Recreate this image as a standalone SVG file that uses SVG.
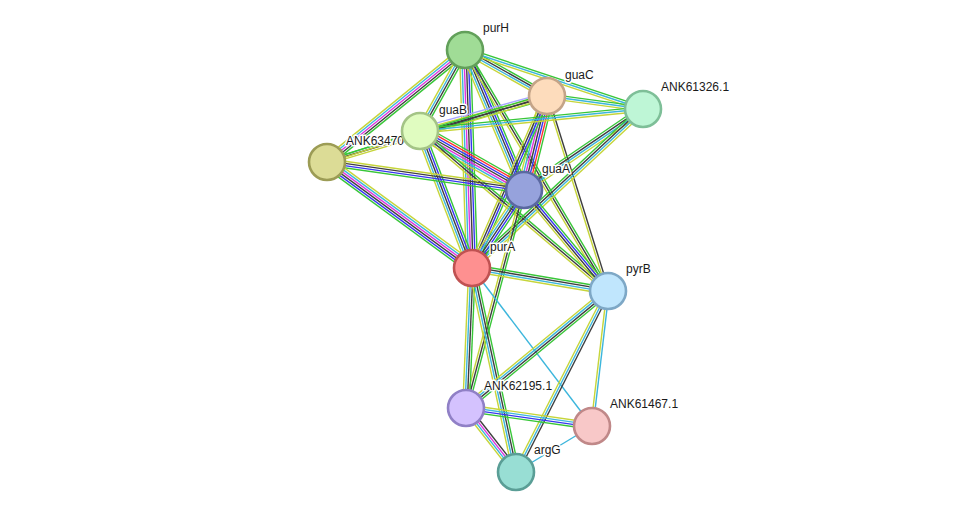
<svg xmlns="http://www.w3.org/2000/svg" width="975" height="517" viewBox="0 0 975 517">
<style>
#edges line{stroke-width:1.4;fill:none}
.n{stroke:#38c638}.f{stroke:#ff3030}.c{stroke:#3636f0}.x{stroke:#3e3e3e}.e{stroke:#dd36dd}.d{stroke:#3cb6dc}.t{stroke:#c6d53a}.h{stroke:#a8a8ff}
.node circle{stroke-width:2.6}
.node text{font-family:"Liberation Sans",Arial,sans-serif;font-size:12px;fill:#1a1a1a;stroke:#fff;stroke-width:3;stroke-linejoin:round;paint-order:stroke}
</style>
<rect width="975" height="517" fill="#fff"/>
<g id="edges">
<g transform="translate(465 50) rotate(140.93)"><line x2="177.7" y1="-4.4" y2="-4.4" class="n"/><line x2="177.7" y1="-2.2" y2="-2.2" class="x"/><line x2="177.7" class="e"/><line x2="177.7" y1="2.2" y2="2.2" class="d"/><line x2="177.7" y1="4.4" y2="4.4" class="t"/></g>
<g transform="translate(465 50) rotate(119.05)"><line x2="92.7" y1="-3.3" y2="-3.3" class="n"/><line x2="92.7" y1="-1.1" y2="-1.1" class="x"/><line x2="92.7" y1="1.1" y2="1.1" class="d"/><line x2="92.7" y1="3.3" y2="3.3" class="t"/></g>
<g transform="translate(465 50) rotate(88.16)"><line x2="218.1" y1="-5.5" y2="-5.5" class="n"/><line x2="218.1" y1="-3.3" y2="-3.3" class="c"/><line x2="218.1" y1="-1.1" y2="-1.1" class="x"/><line x2="218.1" y1="1.1" y2="1.1" class="e"/><line x2="218.1" y1="3.3" y2="3.3" class="d"/><line x2="218.1" y1="5.5" y2="5.5" class="t"/></g>
<g transform="translate(465 50) rotate(67.15)"><line x2="151.9" y1="-4.4" y2="-4.4" class="n"/><line x2="151.9" y1="-2.2" y2="-2.2" class="c"/><line x2="151.9" class="x"/><line x2="151.9" y1="2.2" y2="2.2" class="d"/><line x2="151.9" y1="4.4" y2="4.4" class="t"/></g>
<g transform="translate(465 50) rotate(59.32)"><line x2="280.2" y1="-2.2" y2="-2.2" class="n"/><line x2="280.2" class="x"/><line x2="280.2" y1="2.2" y2="2.2" class="t"/></g>
<g transform="translate(465 50) rotate(29.29)"><line x2="94" y1="-3.3" y2="-3.3" class="n"/><line x2="94" y1="-1.1" y2="-1.1" class="x"/><line x2="94" y1="1.1" y2="1.1" class="d"/><line x2="94" y1="3.3" y2="3.3" class="t"/></g>
<g transform="translate(465 50) rotate(18.34)"><line x2="187.5" y1="-2.2" y2="-2.2" class="n"/><line x2="187.5" class="d"/><line x2="187.5" y1="2.2" y2="2.2" class="t"/></g>
<g transform="translate(547 96) rotate(164.59)"><line x2="131.7" y1="-3.3" y2="-3.3" class="n"/><line x2="131.7" y1="-1.1" y2="-1.1" class="x"/><line x2="131.7" y1="1.1" y2="1.1" class="t"/><line x2="131.7" y1="3.3" y2="3.3" class="h"/></g>
<g transform="translate(547 96) rotate(7.71)"><line x2="96.9" y1="-2.2" y2="-2.2" class="n"/><line x2="96.9" class="d"/><line x2="96.9" y1="2.2" y2="2.2" class="t"/></g>
<g transform="translate(547 96) rotate(103.75)"><line x2="96.8" y1="-6.6" y2="-6.6" class="n"/><line x2="96.8" y1="-4.4" y2="-4.4" class="f"/><line x2="96.8" y1="-2.2" y2="-2.2" class="c"/><line x2="96.8" class="x"/><line x2="96.8" y1="2.2" y2="2.2" class="e"/><line x2="96.8" y1="4.4" y2="4.4" class="d"/><line x2="96.8" y1="6.6" y2="6.6" class="t"/></g>
<g transform="translate(547 96) rotate(113.56)"><line x2="187.6" y1="-3.3" y2="-3.3" class="n"/><line x2="187.6" y1="-1.1" y2="-1.1" class="c"/><line x2="187.6" y1="1.1" y2="1.1" class="x"/><line x2="187.6" y1="3.3" y2="3.3" class="t"/></g>
<g transform="translate(547 96) rotate(72.63)"><line x2="204.3" y1="-1.1" y2="-1.1" class="x"/><line x2="204.3" y1="1.1" y2="1.1" class="t"/></g>
<g transform="translate(327 162) rotate(-16.7)"><line x2="229.7" y1="-2.2" y2="-2.2" class="n"/><line x2="229.7" class="x"/><line x2="229.7" y1="2.2" y2="2.2" class="t"/></g>
<g transform="translate(420 131) rotate(-5.63)"><line x2="224.1" y1="-2.2" y2="-2.2" class="n"/><line x2="224.1" class="d"/><line x2="224.1" y1="2.2" y2="2.2" class="t"/></g>
<g transform="translate(420 131) rotate(29.57)"><line x2="119.6" y1="-6.6" y2="-6.6" class="n"/><line x2="119.6" y1="-4.4" y2="-4.4" class="f"/><line x2="119.6" y1="-2.2" y2="-2.2" class="c"/><line x2="119.6" class="x"/><line x2="119.6" y1="2.2" y2="2.2" class="e"/><line x2="119.6" y1="4.4" y2="4.4" class="d"/><line x2="119.6" y1="6.6" y2="6.6" class="t"/></g>
<g transform="translate(420 131) rotate(69.22)"><line x2="146.5" y1="-4.4" y2="-4.4" class="n"/><line x2="146.5" y1="-2.2" y2="-2.2" class="c"/><line x2="146.5" class="x"/><line x2="146.5" y1="2.2" y2="2.2" class="d"/><line x2="146.5" y1="4.4" y2="4.4" class="t"/></g>
<g transform="translate(420 131) rotate(40.4)"><line x2="246.9" y1="-2.2" y2="-2.2" class="n"/><line x2="246.9" class="x"/><line x2="246.9" y1="2.2" y2="2.2" class="t"/></g>
<g transform="translate(327 162) rotate(-18.43)"><line x2="98" y1="-1.1" y2="-1.1" class="n"/><line x2="98" y1="1.1" y2="1.1" class="t"/></g>
<g transform="translate(327 162) rotate(8.09)"><line x2="199" y1="-3.3" y2="-3.3" class="t"/><line x2="199" y1="-1.1" y2="-1.1" class="x"/><line x2="199" y1="1.1" y2="1.1" class="c"/><line x2="199" y1="3.3" y2="3.3" class="n"/></g>
<g transform="translate(327 162) rotate(36.17)"><line x2="179.6" y1="-5.5" y2="-5.5" class="t"/><line x2="179.6" y1="-3.3" y2="-3.3" class="d"/><line x2="179.6" y1="-1.1" y2="-1.1" class="e"/><line x2="179.6" y1="1.1" y2="1.1" class="x"/><line x2="179.6" y1="3.3" y2="3.3" class="c"/><line x2="179.6" y1="5.5" y2="5.5" class="n"/></g>
<g transform="translate(643 109) rotate(145.76)"><line x2="144" y1="-3.3" y2="-3.3" class="t"/><line x2="144" y1="-1.1" y2="-1.1" class="d"/><line x2="144" y1="1.1" y2="1.1" class="x"/><line x2="144" y1="3.3" y2="3.3" class="n"/></g>
<g transform="translate(643 109) rotate(137.08)"><line x2="233.5" y1="-3.3" y2="-3.3" class="t"/><line x2="233.5" y1="-1.1" y2="-1.1" class="d"/><line x2="233.5" y1="1.1" y2="1.1" class="x"/><line x2="233.5" y1="3.3" y2="3.3" class="n"/></g>
<g transform="translate(524 190) rotate(123.69)"><line x2="93.7" y1="-4.4" y2="-4.4" class="n"/><line x2="93.7" y1="-2.2" y2="-2.2" class="c"/><line x2="93.7" class="x"/><line x2="93.7" y1="2.2" y2="2.2" class="d"/><line x2="93.7" y1="4.4" y2="4.4" class="t"/></g>
<g transform="translate(524 190) rotate(50.25)"><line x2="131.4" y1="-3.3" y2="-3.3" class="n"/><line x2="131.4" y1="-1.1" y2="-1.1" class="c"/><line x2="131.4" y1="1.1" y2="1.1" class="x"/><line x2="131.4" y1="3.3" y2="3.3" class="t"/></g>
<g transform="translate(524 190) rotate(104.9)"><line x2="225.6" y1="-2.2" y2="-2.2" class="n"/><line x2="225.6" class="x"/><line x2="225.6" y1="2.2" y2="2.2" class="t"/></g>
<g transform="translate(472 268) rotate(9.6)"><line x2="137.9" y1="-3.3" y2="-3.3" class="n"/><line x2="137.9" y1="-1.1" y2="-1.1" class="x"/><line x2="137.9" y1="1.1" y2="1.1" class="d"/><line x2="137.9" y1="3.3" y2="3.3" class="t"/></g>
<g transform="translate(472 268) rotate(92.45)"><line x2="140.1" y1="-3.3" y2="-3.3" class="n"/><line x2="140.1" y1="-1.1" y2="-1.1" class="x"/><line x2="140.1" y1="1.1" y2="1.1" class="d"/><line x2="140.1" y1="3.3" y2="3.3" class="t"/></g>
<g transform="translate(472 268) rotate(77.83)"><line x2="208.7" y1="-3.3" y2="-3.3" class="n"/><line x2="208.7" y1="-1.1" y2="-1.1" class="x"/><line x2="208.7" y1="1.1" y2="1.1" class="d"/><line x2="208.7" y1="3.3" y2="3.3" class="t"/></g>
<g transform="translate(472 268) rotate(52.78)"><line x2="198.4" class="d"/></g>
<g transform="translate(608 291) rotate(140.51)"><line x2="184" y1="-3.3" y2="-3.3" class="n"/><line x2="184" y1="-1.1" y2="-1.1" class="x"/><line x2="184" y1="1.1" y2="1.1" class="d"/><line x2="184" y1="3.3" y2="3.3" class="t"/></g>
<g transform="translate(608 291) rotate(116.94)"><line x2="203" y1="-2.2" y2="-2.2" class="x"/><line x2="203" class="d"/><line x2="203" y1="2.2" y2="2.2" class="t"/></g>
<g transform="translate(608 291) rotate(96.76)"><line x2="135.9" y1="-1.1" y2="-1.1" class="d"/><line x2="135.9" y1="1.1" y2="1.1" class="t"/></g>
<g transform="translate(466 408) rotate(8.13)"><line x2="127.3" y1="-3.3" y2="-3.3" class="t"/><line x2="127.3" y1="-1.1" y2="-1.1" class="d"/><line x2="127.3" y1="1.1" y2="1.1" class="c"/><line x2="127.3" y1="3.3" y2="3.3" class="n"/></g>
<g transform="translate(466 408) rotate(52)"><line x2="81.2" y1="-3.3" y2="-3.3" class="x"/><line x2="81.2" y1="-1.1" y2="-1.1" class="e"/><line x2="81.2" y1="1.1" y2="1.1" class="d"/><line x2="81.2" y1="3.3" y2="3.3" class="t"/></g>
<g transform="translate(516 472) rotate(-31.18)"><line x2="88.8" class="d"/></g>
</g>
<g id="ANK63470" class="node"><circle cx="327" cy="162" r="18" fill="#dcdc96" stroke="#9c9c55"/><text x="346" y="145">ANK63470</text></g>
<g id="purH" class="node"><circle cx="465" cy="50" r="18" fill="#a0dc96" stroke="#62a05a"/><text x="483" y="32">purH</text></g>
<g id="guaC" class="node"><circle cx="547" cy="96" r="18" fill="#fddcbc" stroke="#c4a488"/><text x="565" y="79">guaC</text></g>
<g id="ANK61326.1" class="node"><circle cx="643" cy="109" r="18" fill="#bef6d6" stroke="#7ebf98"/><text x="661" y="91">ANK61326.1</text></g>
<g id="guaB" class="node"><circle cx="420" cy="131" r="18" fill="#e0fcc0" stroke="#a4c486"/><text x="439" y="114">guaB</text></g>
<g id="guaA" class="node"><circle cx="524" cy="190" r="18" fill="#96a2dc" stroke="#5a68a0"/><text x="542" y="173">guaA</text></g>
<g id="purA" class="node"><circle cx="472" cy="268" r="18" fill="#fe9090" stroke="#c05252"/><text x="490" y="251">purA</text></g>
<g id="pyrB" class="node"><circle cx="608" cy="291" r="18" fill="#c0e6fd" stroke="#7ea8c6"/><text x="626" y="273">pyrB</text></g>
<g id="ANK62195.1" class="node"><circle cx="466" cy="408" r="18" fill="#d4c2fe" stroke="#9080c6"/><text x="484" y="390">ANK62195.1</text></g>
<g id="ANK61467.1" class="node"><circle cx="592" cy="426" r="18" fill="#f8c8c8" stroke="#c08888"/><text x="610" y="408">ANK61467.1</text></g>
<g id="argG" class="node"><circle cx="516" cy="472" r="18" fill="#98ded4" stroke="#5a9e96"/><text x="534" y="454">argG</text></g>
</svg>
